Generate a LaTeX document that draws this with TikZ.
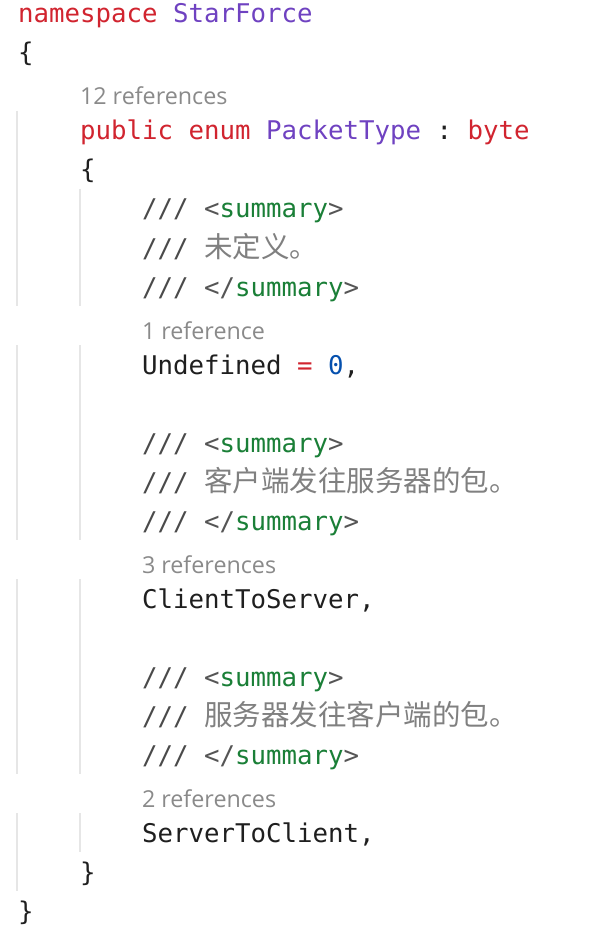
\documentclass[tikz,border=0pt]{standalone}
\usepackage{fontspec}
\setmonofont{DejaVu Sans Mono}
\newfontfamily\cjkfont{Noto Sans CJK SC}
\newfontfamily\lensfont{Open Sans}
\definecolor{kw}{HTML}{D1242F}
\definecolor{ty}{HTML}{6F42C1}
\definecolor{num}{HTML}{0550AE}
\definecolor{xmltag}{HTML}{1A7F37}
\definecolor{slash}{HTML}{4A4A4A}
\definecolor{brk}{HTML}{555555}
\definecolor{cmt}{HTML}{808080}
\definecolor{lensc}{HTML}{8A8A8A}
\definecolor{txt}{HTML}{1F1F1F}
\definecolor{guidec}{HTML}{E6E6E6}
\newcommand{\cj}[1]{{\cjkfont\fontsize{28.5}{30}\selectfont\textcolor{cmt}{#1}}}
\newcommand{\sumopen}{\textcolor{slash}{///} \textcolor{brk}{<}\textcolor{xmltag}{summary}\textcolor{brk}{>}}
\newcommand{\sumclose}{\textcolor{slash}{///} \textcolor{brk}{</}\textcolor{xmltag}{summary}\textcolor{brk}{>}}
\tikzset{
  code/.style={anchor=base west, inner sep=0pt, outer sep=0pt, text=txt,
    font=\ttfamily\fontsize{25.75}{30}\selectfont},
  lens/.style={anchor=base west, inner sep=0pt, outer sep=0pt, text=lensc,
    font=\lensfont\fontsize{23.3}{26}\selectfont},
  guide/.style={draw=guidec, line width=2pt}
}
\begin{document}
\begin{tikzpicture}[x=1pt,y=-1pt]
\useasboundingbox[fill=white] (0,0) rectangle (610,933);
% indentation guides
\draw[guide] (17,111) -- (17,306);
\draw[guide] (17,345) -- (17,540);
\draw[guide] (17,579) -- (17,774);
\draw[guide] (17,813) -- (17,891);
\draw[guide] (80,189) -- (80,306);
\draw[guide] (80,345) -- (80,540);
\draw[guide] (80,579) -- (80,774);
\draw[guide] (80,813) -- (80,852);
% code lines (baseline = 23 + 39k)
\node[code] (l0) at (18,23) {\textcolor{kw}{namespace} \textcolor{ty}{StarForce}};
\node[code] (l1) at (18,62) {\{};
\node[lens] (r2) at (80,105) {12 references};
\node[code] (l3) at (80,140) {\textcolor{kw}{public} \textcolor{kw}{enum} \textcolor{ty}{PacketType} : \textcolor{kw}{byte}};
\node[code] (l4) at (80,179) {\{};
\node[code] (l5) at (142,218) {\sumopen};
\node[code] (l6) at (142,257) {\textcolor{slash}{///} \cj{未定义。}};
\node[code] (l7) at (142,296) {\sumclose};
\node[lens] (r8) at (142,339) {1 reference};
\node[code] (l9) at (142,374) {Undefined \textcolor{kw}{=} \textcolor{num}{0},};
\node[code] (l11) at (142,452) {\sumopen};
\node[code] (l12) at (142,491) {\textcolor{slash}{///} \cj{客户端发往服务器的包。}};
\node[code] (l13) at (142,530) {\sumclose};
\node[lens] (r14) at (142,573) {3 references};
\node[code] (l15) at (142,608) {ClientToServer,};
\node[code] (l17) at (142,686) {\sumopen};
\node[code] (l18) at (142,725) {\textcolor{slash}{///} \cj{服务器发往客户端的包。}};
\node[code] (l19) at (142,764) {\sumclose};
\node[lens] (r20) at (142,807) {2 references};
\node[code] (l21) at (142,842) {ServerToClient,};
\node[code] (l22) at (80,881) {\}};
\node[code] (l23) at (18,920) {\}};
\end{tikzpicture}
\end{document}
